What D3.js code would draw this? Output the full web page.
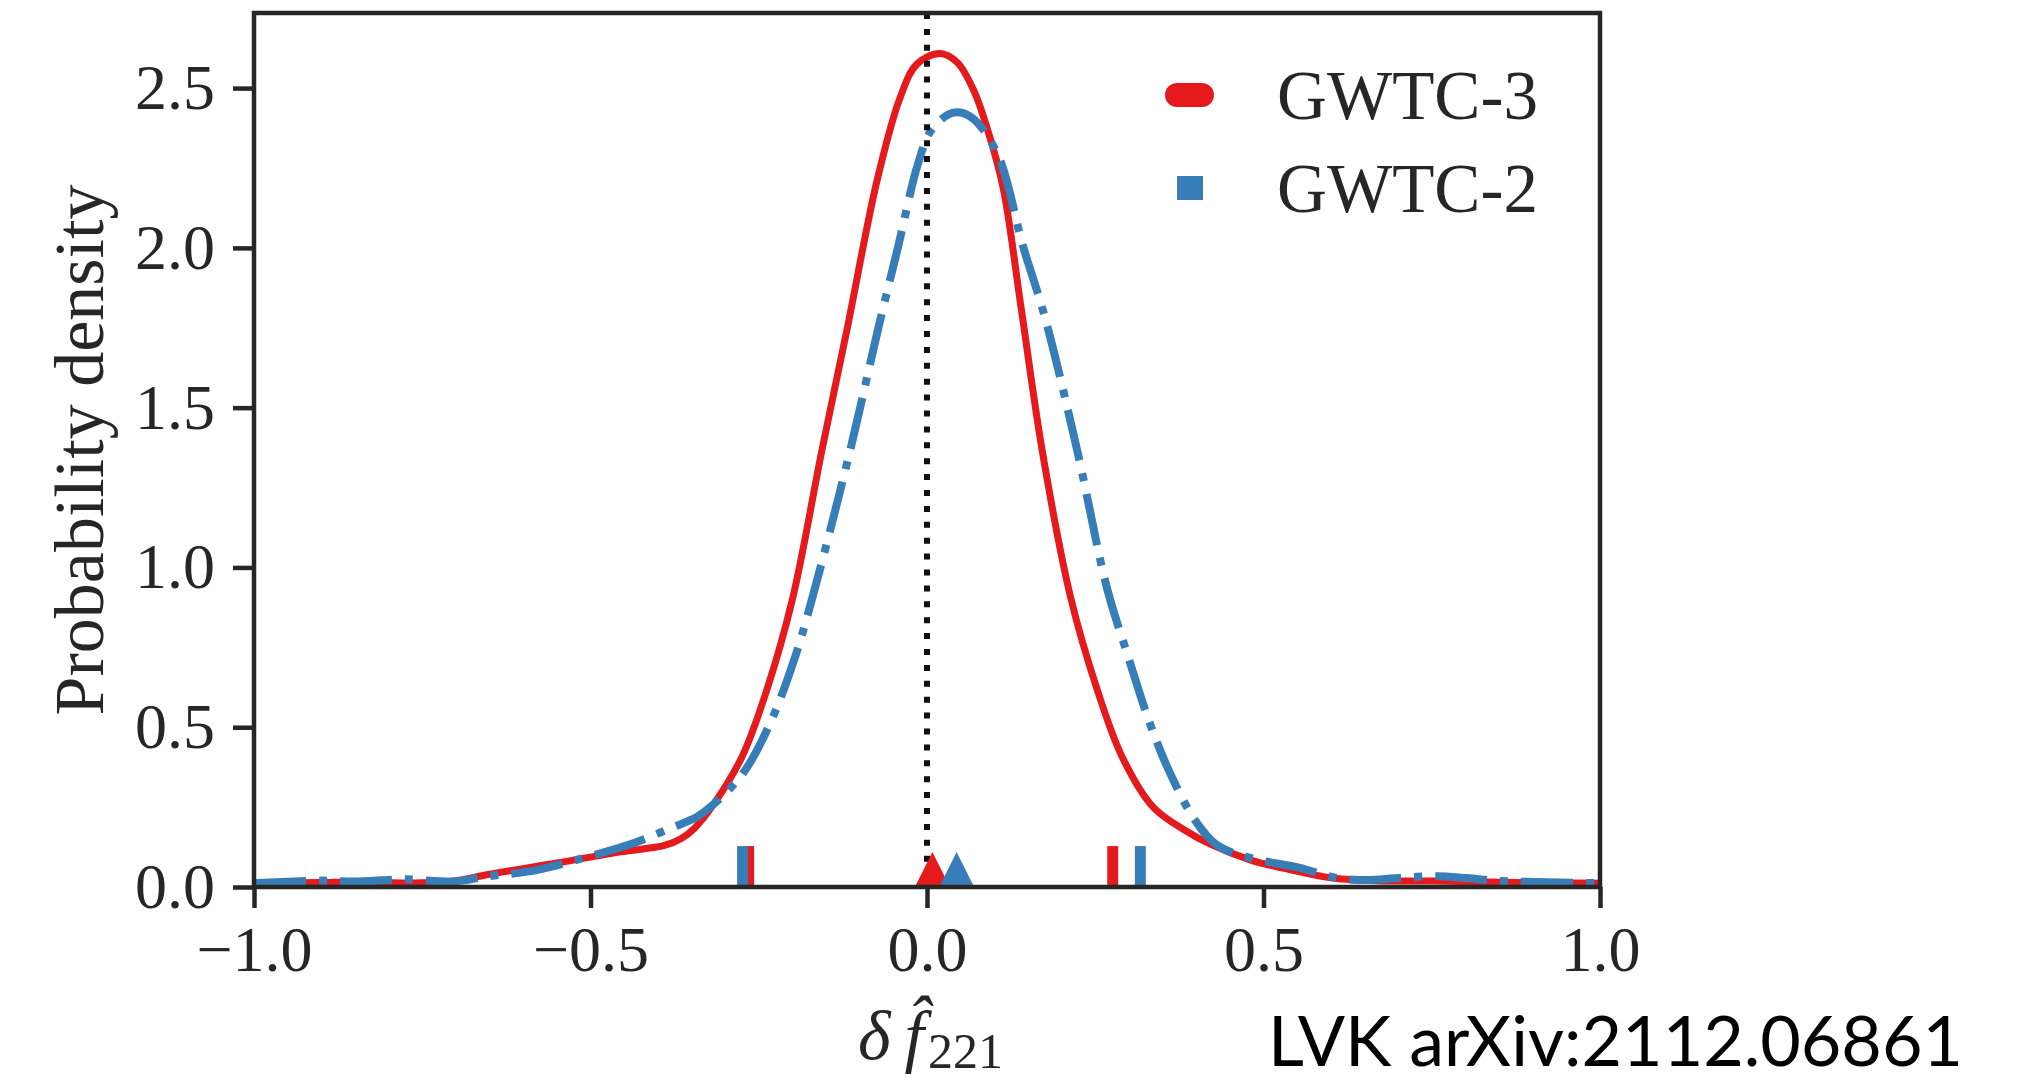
<!DOCTYPE html>
<html lang="en">
<head>
<meta charset="UTF-8">
<title>delta f221 posterior</title>
<script src="https://d3js.org/d3.v7.min.js"></script>
<style>
    body { margin: 0; background: #fff; }
</style>
</head>
<body>
<div id="chart"></div>
<script>
// series names / colours
var seriesNames = ['GWTC-3', 'GWTC-2'];

// GWTC-3 density (solid red)
var xGWTC3 = [-1.00, -0.90, -0.85, -0.75, -0.70, -0.65, -0.55, -0.455, -0.39, -0.365, -0.345, -0.32, -0.275, -0.238, -0.20, -0.156, -0.119, -0.074, -0.040, -0.015, 0.019, 0.045, 0.070, 0.090, 0.113, 0.140, 0.171, 0.213, 0.253, 0.290, 0.336, 0.385, 0.420, 0.480, 0.529, 0.603, 0.678, 0.752, 0.877, 1.00];
var densGWTC3 = [0.012, 0.014, 0.016, 0.013, 0.020, 0.040, 0.075, 0.110, 0.130, 0.152, 0.185, 0.25, 0.407, 0.617, 0.90, 1.368, 1.743, 2.213, 2.47, 2.575, 2.608, 2.58, 2.49, 2.37, 2.19, 1.81, 1.368, 0.91, 0.617, 0.407, 0.25, 0.175, 0.135, 0.085, 0.059, 0.028, 0.019, 0.019, 0.014, 0.012];

// GWTC-2 density (dash-dot blue)
var xGWTC2 = [-1.00, -0.90, -0.85, -0.777, -0.703, -0.654, -0.58, -0.505, -0.431, -0.38, -0.342, -0.322, -0.273, -0.233, -0.196, -0.170, -0.114, -0.073, -0.043, -0.013, 0.007, 0.039, 0.065, 0.104, 0.143, 0.175, 0.223, 0.267, 0.299, 0.331, 0.361, 0.398, 0.431, 0.480, 0.554, 0.609, 0.654, 0.700, 0.758, 0.802, 0.851, 1.00];
var densGWTC2 = [0.012, 0.020, 0.017, 0.024, 0.017, 0.033, 0.053, 0.094, 0.141, 0.185, 0.219, 0.25, 0.357, 0.513, 0.72, 0.908, 1.368, 1.743, 2.003, 2.266, 2.37, 2.423, 2.41, 2.297, 2.003, 1.784, 1.368, 0.939, 0.72, 0.513, 0.357, 0.21, 0.131, 0.091, 0.060, 0.028, 0.022, 0.028, 0.034, 0.028, 0.019, 0.012];

// 90% interval bounds (rug bars) and medians (triangles)
var boundsGWTC3 = [-0.265, 0.276];
var boundsGWTC2 = [-0.274, 0.317];
var medians = [0.008, 0.044];

var xTicks = [-1.0, -0.5, 0.0, 0.5, 1.0];
var yTicks = [0.0, 0.5, 1.0, 1.5, 2.0, 2.5];

var W = 2023, H = 1081;
// plot box (note: "top" is reserved on window, so use other names)
var pLeft = 254, pRight = 1600, pTop = 13, pBottom = 887;
var ink = '#262626';
var colors = ['#e41a1c', '#377eb8'];

var svg = d3.select('#chart').append('svg')
    .attr('width', W)
    .attr('height', H)
    .style('background', '#fff');

var x = d3.scaleLinear().domain([-1, 1]).range([pLeft, pRight]);
var y = d3.scaleLinear().domain([0, 2.735]).range([pBottom, pTop]);

// curves
var line = d3.line()
    .x(d => x(d[0]))
    .y(d => y(d[1]))
    .curve(d3.curveCatmullRom.alpha(0.5));

svg.append('path')
    .datum(d3.zip(xGWTC3, densGWTC3))
    .attr('fill', 'none')
    .attr('stroke', colors[0])
    .attr('stroke-width', 7)
    .attr('stroke-linejoin', 'round')
    .attr('d', line);

svg.append('path')
    .datum(d3.zip(xGWTC2, densGWTC2))
    .attr('fill', 'none')
    .attr('stroke', colors[1])
    .attr('stroke-width', 8)
    .attr('stroke-dasharray', '52,13,8,13')
    .attr('d', line);

// x = 0 reference
svg.append('line')
    .attr('x1', x(0)).attr('x2', x(0))
    .attr('y1', pTop).attr('y2', pBottom)
    .attr('stroke', '#111')
    .attr('stroke-width', 6)
    .attr('stroke-dasharray', '6,9.9');

// rug bars for credible bounds (red first, blue on top)
var rugH = 0.128;
[boundsGWTC3, boundsGWTC2].forEach(function (b, i) {
    svg.append('g').selectAll('rect')
        .data(b)
        .enter()
        .append('rect')
        .attr('x', d => x(d) - 5.5)
        .attr('width', 11)
        .attr('y', y(rugH))
        .attr('height', y(0) - y(rugH))
        .attr('fill', colors[i]);
});

// median triangles
var tri = 18.5;
medians.forEach(function (m, i) {
    var cx = x(m), base = y(0) + 2;
    svg.append('path')
        .attr('d', 'M' + cx + ',' + (base - 37) + 'L' + (cx + tri) + ',' + base + 'L' + (cx - tri) + ',' + base + 'Z')
        .attr('fill', colors[i]);
});

// axes
var xAxis = svg.append('g')
    .attr('transform', 'translate(0,' + pBottom + ')')
    .call(d3.axisBottom(x).tickValues(xTicks).tickFormat(d3.format('.1f')).tickSize(21).tickPadding(18));
var yAxis = svg.append('g')
    .attr('transform', 'translate(' + pLeft + ',0)')
    .call(d3.axisLeft(y).tickValues(yTicks).tickFormat(d3.format('.1f')).tickSize(21).tickPadding(18));

[xAxis, yAxis].forEach(function (g) {
    g.select('.domain').remove();
    g.selectAll('.tick line').attr('stroke', ink).attr('stroke-width', 4.5);
    g.selectAll('.tick text')
        .attr('fill', ink)
        .style('font-family', '"Liberation Serif", "DejaVu Serif", serif')
        .style('font-size', '64px');
});

// frame
svg.append('rect')
    .attr('x', pLeft).attr('y', pTop)
    .attr('width', pRight - pLeft).attr('height', pBottom - pTop)
    .attr('fill', 'none')
    .attr('stroke', ink)
    .attr('stroke-width', 4.5);

// y label
svg.append('text')
    .attr('transform', 'translate(103,' + ((pTop + pBottom) / 2) + ') rotate(-90)')
    .attr('text-anchor', 'middle')
    .attr('fill', ink)
    .style('font-family', '"Liberation Serif", "DejaVu Serif", serif')
    .style('font-size', '70px')
    .text('Probability density');

// x label  δ f̂_221  (one text element, hat as combining mark)
var xl = svg.append('text')
    .attr('x', 858).attr('y', 1059)
    .attr('fill', ink)
    .style('font-family', '"Liberation Serif", "DejaVu Serif", serif')
    .style('font-size', '70px');
xl.append('tspan')
    .style('font-style', 'italic')
    .text('δ\u2009f\u0302');
xl.append('tspan')
    .attr('dx', 4)
    .attr('dy', 9)
    .style('font-size', '50px')
    .text('221');

// legend
var legendY = [95, 188];
seriesNames.forEach(function (name, i) {
    svg.append('line')
        .attr('x1', 1177).attr('x2', i === 0 ? 1202 : 1203)
        .attr('y1', legendY[i]).attr('y2', legendY[i])
        .attr('stroke', colors[i])
        .attr('stroke-width', 24)
        .attr('stroke-linecap', i === 0 ? 'round' : 'butt');
    svg.append('text')
        .attr('x', 1277).attr('y', legendY[i] + 24)
        .attr('fill', ink)
        .attr('textLength', 261)
        .attr('lengthAdjust', 'spacingAndGlyphs')
        .style('font-family', '"Liberation Serif", "DejaVu Serif", serif')
        .style('font-size', '70px')
        .text(name);
});

// source note
svg.append('text')
    .attr('x', 1268).attr('y', 1066)
    .attr('fill', '#000')
    .attr('textLength', 695)
    .attr('lengthAdjust', 'spacingAndGlyphs')
    .style('font-family', 'Lato, "Open Sans", sans-serif')
    .style('font-size', '70px')
    .text('LVK arXiv:2112.06861');
</script>
</body>
</html>
